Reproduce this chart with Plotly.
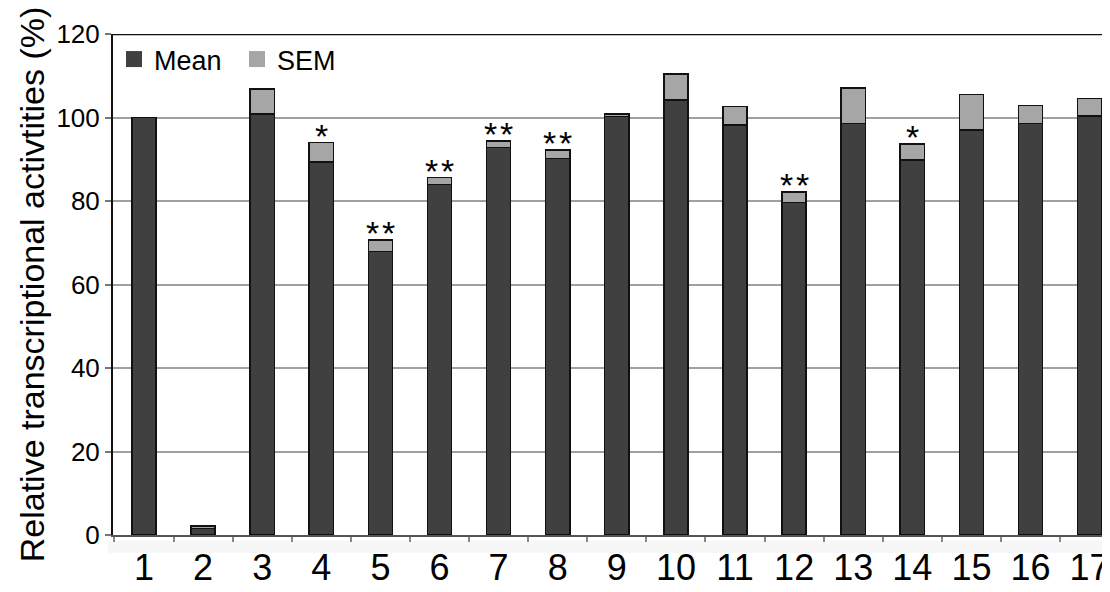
import plotly.graph_objects as go

categories = ["1", "2", "3", "4", "5", "6", "7", "8", "9", "10", "11", "12", "13", "14", "15", "16", "17"]
mean = [100.0, 1.5, 100.8, 89.4, 67.9, 83.9, 92.8, 90.2, 100.3, 104.2, 98.2, 79.6, 98.6, 89.8, 97.0, 98.6, 100.4]
sem = [0.0, 0.7, 6.0, 4.6, 2.8, 1.7, 1.6, 2.0, 0.5, 6.2, 4.4, 2.6, 8.5, 3.9, 8.5, 4.3, 4.2]
stars = ["", "", "", "*", "**", "**", "**", "**", "", "", "", "**", "", "*", "", "", ""]
y_ticks = [0, 20, 40, 60, 80, 100, 120]

FONT = "Liberation Sans, Arial, sans-serif"
MEAN_C = "#404040"
SEM_C = "#a6a6a6"

fig = go.Figure()
fig.add_trace(go.Bar(x=categories, y=mean, name="Mean", marker=dict(color=MEAN_C, line=dict(color="#111111", width=1.5)),
                     width=0.41, showlegend=False))
fig.add_trace(go.Bar(x=categories, y=sem, name="SEM", marker=dict(color=SEM_C, line=dict(color="#111111", width=1.5)),
                     width=0.41, showlegend=False))
# legend entries
fig.add_trace(go.Scatter(x=[None], y=[None], mode="markers", name="Mean",
                         marker=dict(symbol="square", size=16, color=MEAN_C, line=dict(width=0))))
fig.add_trace(go.Scatter(x=[None], y=[None], mode="markers", name="SEM",
                         marker=dict(symbol="square", size=16, color=SEM_C, line=dict(width=0))))

for i, (m, s, st) in enumerate(zip(mean, sem, stars)):
    if st:
        fig.add_annotation(x=i, y=m + s, text="\u200a".join(st), showarrow=False, yanchor="bottom",
                           yshift=-14, font=dict(family=FONT, size=34, color="black"))

# top border
fig.add_shape(type="line", xref="paper", yref="y", x0=0, x1=1, y0=120, y1=120,
              line=dict(color="#111111", width=2.5))
# faint band under the axis
fig.add_shape(type="rect", xref="paper", yref="paper", x0=-0.005, x1=1.0, y0=-0.036, y1=-0.011,
              line=dict(width=0), fillcolor="#f7f7f7", layer="below")

fig.update_layout(
    width=1102, height=584,
    margin=dict(l=105, r=0, t=26, b=57),
    barmode="stack",
    plot_bgcolor="white", paper_bgcolor="white",
    font=dict(family=FONT, color="black"),
    legend=dict(orientation="h", x=0.001, y=0.998, xanchor="left", yanchor="top",
                traceorder="normal", entrywidth=78, entrywidthmode="pixels",
                font=dict(size=27, family=FONT), bgcolor="rgba(0,0,0,0)"),
    xaxis=dict(type="category", range=[-0.525, 16.345], showgrid=False, automargin=False,
               showline=True, linecolor="#555555", linewidth=2,
               ticks="outside", tickson="boundaries", ticklen=5, tickcolor="#888888", tickwidth=1.5,
               tickfont=dict(size=36, family=FONT, color="black")),
    yaxis=dict(range=[0, 120], tickvals=y_ticks, showgrid=True, gridcolor="#a0a0a0", gridwidth=1.5,
               showline=True, linecolor="#111111", linewidth=2, zeroline=False, automargin=False,
               ticks="outside", ticklen=6, tickcolor="#777777", tickwidth=1.5, ticksuffix="\u2002\u2002",
               tickfont=dict(size=26, family=FONT, color="black"),
               title=dict(text="Relative transcriptional activtities (%)", font=dict(size=34, family=FONT, color="black"),
                          standoff=2)),
)

fig.write_html("out.html")
